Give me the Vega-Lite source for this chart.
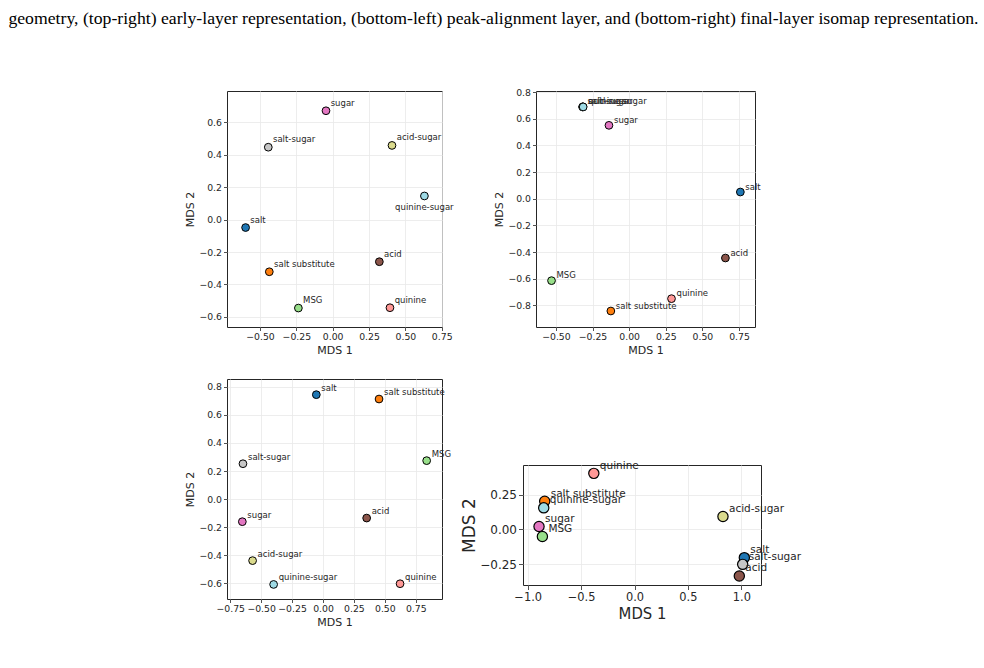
{
  "$schema": "https://vega.github.io/schema/vega-lite/v6.json",
  "background": "white",
  "padding": {"left": 8, "top": 9, "right": 0, "bottom": 0},
  "title": {"text": "geometry, (top-right) early-layer representation, (bottom-left) peak-alignment layer, and (bottom-right) final-layer isomap representation.", "anchor": "start", "font": "Liberation Serif", "fontSize": 17.7, "fontWeight": "normal", "color": "#000000", "dx": -176, "offset": 60},
  "datasets": {
    "geometry": [
      {"label": "salt", "x": -0.599, "y": -0.049},
      {"label": "salt substitute", "x": -0.436, "y": -0.322},
      {"label": "MSG", "x": -0.236, "y": -0.546},
      {"label": "sugar", "x": -0.046, "y": 0.672},
      {"label": "acid", "x": 0.321, "y": -0.26},
      {"label": "salt-sugar", "x": -0.443, "y": 0.447},
      {"label": "acid-sugar", "x": 0.408, "y": 0.458},
      {"label": "quinine", "x": 0.394, "y": -0.544},
      {"label": "quinine-sugar", "x": 0.631, "y": 0.146}
    ],
    "early": [
      {"label": "salt", "x": 0.759, "y": 0.05},
      {"label": "salt substitute", "x": -0.125, "y": -0.8425},
      {"label": "MSG", "x": -0.53, "y": -0.615},
      {"label": "sugar", "x": -0.138, "y": 0.55},
      {"label": "acid", "x": 0.657, "y": -0.445},
      {"label": "salt-sugar", "x": -0.318, "y": 0.688},
      {"label": "acid-sugar", "x": -0.316, "y": 0.689},
      {"label": "quinine", "x": 0.289, "y": -0.75},
      {"label": "quinine-sugar", "x": -0.314, "y": 0.688}
    ],
    "peak": [
      {"label": "salt", "x": -0.054, "y": 0.745},
      {"label": "salt substitute", "x": 0.453, "y": 0.714},
      {"label": "MSG", "x": 0.838, "y": 0.274},
      {"label": "sugar", "x": -0.652, "y": -0.162},
      {"label": "acid", "x": 0.353, "y": -0.136},
      {"label": "salt-sugar", "x": -0.647, "y": 0.252},
      {"label": "acid-sugar", "x": -0.569, "y": -0.44},
      {"label": "quinine", "x": 0.623, "y": -0.605},
      {"label": "quinine-sugar", "x": -0.399, "y": -0.61}
    ],
    "final": [
      {"label": "salt", "x": 1.028, "y": -0.202},
      {"label": "salt substitute", "x": -0.841, "y": 0.202},
      {"label": "MSG", "x": -0.8625, "y": -0.05},
      {"label": "sugar", "x": -0.894, "y": 0.021},
      {"label": "acid", "x": 0.981, "y": -0.333},
      {"label": "salt-sugar", "x": 1.0125, "y": -0.25},
      {"label": "acid-sugar", "x": 0.828, "y": 0.093},
      {"label": "quinine", "x": -0.381, "y": 0.402},
      {"label": "quinine-sugar", "x": -0.85, "y": 0.155}
    ]
  },
  "columns": 2,
  "align": "none",
  "spacing": {"row": 21, "column": 5},
  "concat": [
    {
      "width": 215, "height": 236,
      "data": {"name": "geometry"},
      "encoding": {
        "x": {"field": "x", "type": "quantitative", "scale": {"domain": [-0.727, 0.752], "nice": false, "zero": false}, "axis": {"title": "MDS 1", "values": [-0.5, -0.25, 0, 0.25, 0.5, 0.75], "format": ".2f"}},
        "y": {"field": "y", "type": "quantitative", "scale": {"domain": [-0.663, 0.794], "nice": false, "zero": false}, "axis": {"title": "MDS 2", "values": [-0.6, -0.4, -0.2, 0, 0.2, 0.4, 0.6], "format": ".1f"}}
      },
      "layer": [
        {"mark": {"type": "circle", "size": 60, "opacity": 1, "stroke": "#000000", "strokeWidth": 1},
         "encoding": {"color": {"field": "label", "type": "nominal", "legend": null, "scale": {"domain": ["salt", "salt substitute", "MSG", "sugar", "acid", "salt-sugar", "acid-sugar", "quinine", "quinine-sugar"], "range": ["#1f77b4", "#ff7f0e", "#98df8a", "#e377c2", "#8c564b", "#c7c7c7", "#dbdb8d", "#ff9896", "#9edae5"]}}}},
        {"transform": [{"filter": "datum.label !== 'quinine-sugar'"}],
         "mark": {"type": "text", "align": "left", "baseline": "alphabetic", "dx": 4.7, "dy": -5},
         "encoding": {"text": {"field": "label"}}},
        {"transform": [{"filter": "datum.label === 'quinine-sugar'"}],
         "mark": {"type": "text", "align": "left", "baseline": "alphabetic", "dx": -29.3, "dy": 14.5},
         "encoding": {"text": {"field": "label"}}}
      ]
    },
    {
      "width": 219, "height": 236,
      "title": {"text": " ", "orient": "left", "fontSize": 4, "offset": 29},
      "data": {"name": "early"},
      "encoding": {
        "x": {"field": "x", "type": "quantitative", "scale": {"domain": [-0.636, 0.859], "nice": false, "zero": false}, "axis": {"title": "MDS 1", "values": [-0.5, -0.25, 0, 0.25, 0.5, 0.75], "format": ".2f"}},
        "y": {"field": "y", "type": "quantitative", "scale": {"domain": [-0.9625, 0.8075], "nice": false, "zero": false}, "axis": {"title": "MDS 2", "values": [-0.8, -0.6, -0.4, -0.2, 0, 0.2, 0.4, 0.6, 0.8], "format": ".1f"}}
      },
      "layer": [
        {"mark": {"type": "circle", "size": 60, "opacity": 1, "stroke": "#000000", "strokeWidth": 1},
         "encoding": {"color": {"field": "label", "type": "nominal", "legend": null, "scale": {"domain": ["salt", "salt substitute", "MSG", "sugar", "acid", "salt-sugar", "acid-sugar", "quinine", "quinine-sugar"], "range": ["#1f77b4", "#ff7f0e", "#98df8a", "#e377c2", "#8c564b", "#c7c7c7", "#dbdb8d", "#ff9896", "#9edae5"]}}}},
        {"mark": {"type": "text", "align": "left", "baseline": "alphabetic", "dx": 5, "dy": -2.5},
         "encoding": {"text": {"field": "label"}}}
      ]
    },
    {
      "width": 215, "height": 220,
      "data": {"name": "peak"},
      "encoding": {
        "x": {"field": "x", "type": "quantitative", "scale": {"domain": [-0.776, 0.962], "nice": false, "zero": false}, "axis": {"title": "MDS 1", "values": [-0.75, -0.5, -0.25, 0, 0.25, 0.5, 0.75], "format": ".2f"}},
        "y": {"field": "y", "type": "quantitative", "scale": {"domain": [-0.714, 0.857], "nice": false, "zero": false}, "axis": {"title": "MDS 2", "values": [-0.6, -0.4, -0.2, 0, 0.2, 0.4, 0.6, 0.8], "format": ".1f"}}
      },
      "layer": [
        {"mark": {"type": "circle", "size": 60, "opacity": 1, "stroke": "#000000", "strokeWidth": 1},
         "encoding": {"color": {"field": "label", "type": "nominal", "legend": null, "scale": {"domain": ["salt", "salt substitute", "MSG", "sugar", "acid", "salt-sugar", "acid-sugar", "quinine", "quinine-sugar"], "range": ["#1f77b4", "#ff7f0e", "#98df8a", "#e377c2", "#8c564b", "#c7c7c7", "#dbdb8d", "#ff9896", "#9edae5"]}}}},
        {"mark": {"type": "text", "align": "left", "baseline": "alphabetic", "dx": 5, "dy": -4},
         "encoding": {"text": {"field": "label"}}}
      ]
    },
    {
      "width": 238, "height": 120,
      "title": {"text": " ", "fontSize": 10, "offset": 72},
      "data": {"name": "final"},
      "encoding": {
        "x": {"field": "x", "type": "quantitative", "scale": {"domain": [-1.044, 1.184], "nice": false, "zero": false}, "axis": {"title": "MDS 1", "values": [-1, -0.5, 0, 0.5, 1], "format": ".1f", "labelFontSize": 11.4, "titleFontSize": 16.5, "titleFont": "Liberation Sans Narrow, DejaVu Sans Condensed, DejaVu Sans", "tickSize": 4.5}},
        "y": {"field": "y", "type": "quantitative", "scale": {"domain": [-0.398, 0.462], "nice": false, "zero": false}, "axis": {"title": "MDS 2", "values": [-0.25, 0, 0.25], "format": ".2f", "labelFontSize": 12, "labelPadding": 2, "titleFontSize": 17, "titlePadding": 1, "tickSize": 4.5}}
      },
      "layer": [
        {"mark": {"type": "circle", "size": 105, "opacity": 1, "stroke": "#000000", "strokeWidth": 1.2},
         "encoding": {"color": {"field": "label", "type": "nominal", "legend": null, "scale": {"domain": ["salt", "salt substitute", "MSG", "sugar", "acid", "salt-sugar", "acid-sugar", "quinine", "quinine-sugar"], "range": ["#1f77b4", "#ff7f0e", "#98df8a", "#e377c2", "#8c564b", "#c7c7c7", "#dbdb8d", "#ff9896", "#9edae5"]}}}},
        {"mark": {"type": "text", "align": "left", "baseline": "alphabetic", "dx": 6, "dy": -4.5, "fontSize": 10.5},
         "encoding": {"text": {"field": "label"}}}
      ]
    }
  ],
  "config": {
    "view": {"stroke": "#262626", "strokeWidth": 1},
    "axis": {"domain": false, "grid": true, "gridColor": "#e8e8e8", "gridWidth": 0.8, "ticks": true, "tickColor": "#262626", "tickSize": 3.5, "tickWidth": 0.8, "labelFont": "DejaVu Sans", "labelFontSize": 9.3, "labelColor": "#262626", "labelPadding": 2, "labelFlush": false, "labelOverlap": false, "titleFont": "DejaVu Sans", "titleFontSize": 11, "titleFontWeight": "normal", "titleColor": "#262626", "titlePadding": 3},
    "text": {"font": "DejaVu Sans", "fontSize": 8.5, "color": "#262626"}
  }
}
